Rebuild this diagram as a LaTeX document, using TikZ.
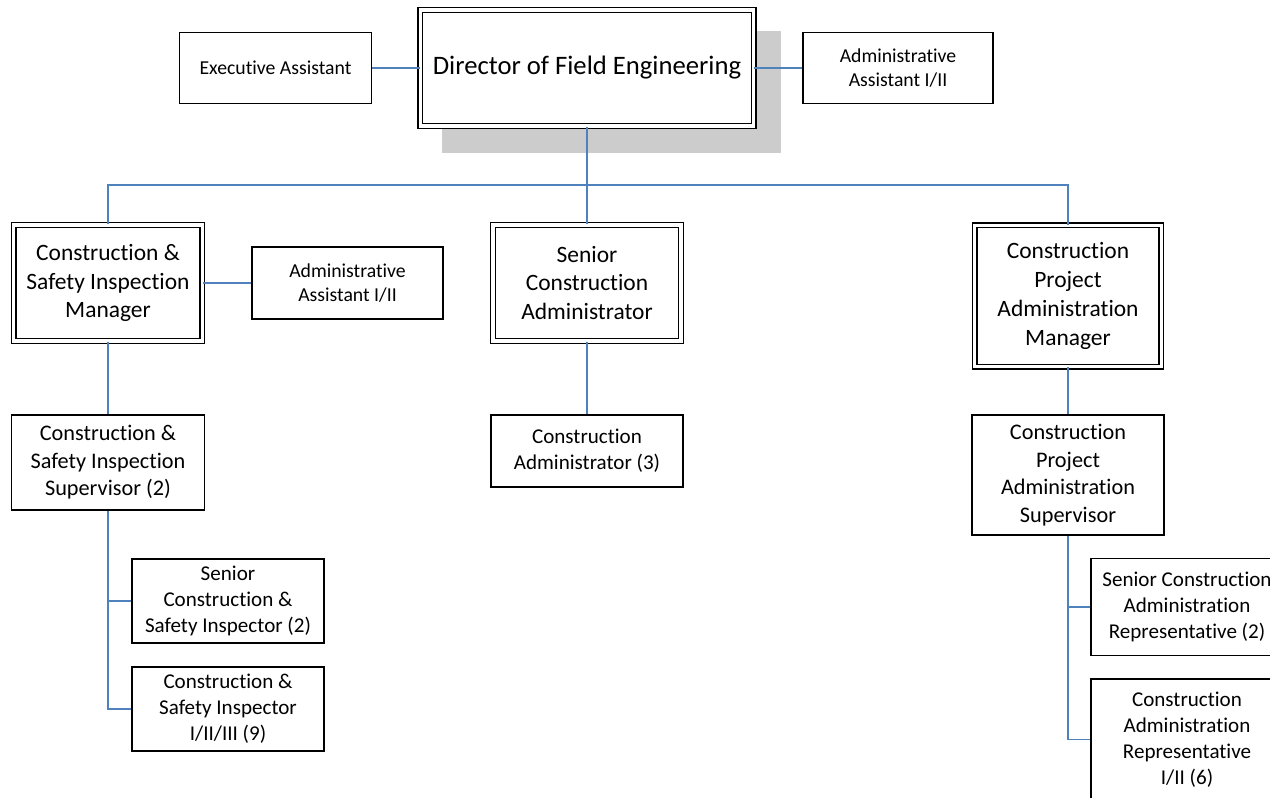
\documentclass[tikz,border=0pt]{standalone}
\usepackage{fontspec}
\setmainfont{Carlito}[RawFeature={-liga}]
\definecolor{linkblue}{RGB}{79,129,189}
\definecolor{shadowgray}{RGB}{204,204,204}
\begin{document}
\begin{tikzpicture}[line join=miter, x=0.75pt, y=-0.75pt]
				\tikzset{role/.style={draw, fill=white, line width=1.1pt, align=center, inner sep=1pt, minimum width=144pt},
					lead/.style={role, double, double distance=2.3pt, line width=1.1pt},
					conn/.style={draw=linkblue, line width=1.2pt},
					small/.style={font=\fontsize{14.8}{17.5}\selectfont},
					big/.style={font=\fontsize{17.6}{21.6}\selectfont},
					mid/.style={font=\fontsize{16.7}{20.6}\selectfont},
					low/.style={font=\fontsize{15.8}{19.4}\selectfont}}
				\useasboundingbox (0,0) rectangle (1270,797);
				\fill[shadowgray] (442,31) rectangle (781,153);
				\node[role, small, minimum height=53.3pt] (exec) at (275.5,68) {Executive Assistant};
				\node[lead, minimum width=250pt, minimum height=87pt, font=\fontsize{20}{24}\selectfont] (dir) at (587,68) {Director of Field Engineering};
				\node[role, small, minimum width=142.5pt, minimum height=53.3pt] (adm1) at (898,68) {Administrative\\Assistant I/II};
				\node[lead, big, minimum width=141.4pt, minimum height=87pt] (csim) at (108,283) {Construction \&\\Safety Inspection\\Manager};
				\node[role, small, minimum width=143.3pt, minimum height=54pt] (adm2) at (347.5,283) {Administrative\\Assistant I/II};
				\node[lead, big, minimum width=141pt, minimum height=87pt] (sca) at (587,283) {Senior\\Construction\\Administrator};
				\node[lead, big, minimum width=140pt, minimum height=105.8pt] (cpam) at (1068,296) {Construction\\Project\\Administration\\Manager};
				\node[role, mid, minimum width=144.8pt, minimum height=71.3pt] (csis) at (108,462.5) {Construction \&\\Safety Inspection\\Supervisor (2)};
				\node[role, low, minimum height=54pt] (ca) at (587,451) {Construction\\Administrator (3)};
				\node[role, mid, minimum height=90pt] (cpas) at (1068,475) {Construction\\Project\\Administration\\Supervisor};
				\node[role, low, minimum height=63pt] (scsi) at (228,601) {Senior\\Construction \&\\Safety Inspector (2)};
				\node[role, low, minimum height=63pt] (csi) at (228,709) {Construction \&\\Safety Inspector\\I/II/III (9)};
				\node[role, low, minimum height=72.8pt] (scar) at (1187,607) {Senior Construction\\Administration\\Representative (2)};
				\node[role, low, minimum height=90.8pt] (car) at (1187,739.5) {Construction\\Administration\\Representative\\I/II (6)};
				\coordinate (bus) at (587,185);
				\draw[conn] (exec) -- (dir);
				\draw[conn] (dir) -- (adm1);
				\draw[conn] (dir) -- (sca);
				\draw[conn] (csim.north) |- (bus) -| (cpam.north);
				\draw[conn] (csim) -- (adm2);
				\draw[conn] (csim) -- (csis);
				\draw[conn] (sca) -- (ca);
				\draw[conn] (cpam) -- (cpas);
				\draw[conn] (csis.south) |- (csi.west);
				\draw[conn] (csis.south |- scsi.west) -- (scsi.west);
				\draw[conn] (cpas.south) |- (car.west);
				\draw[conn] (cpas.south |- scar.west) -- (scar.west);
			\end{tikzpicture}
\end{document}
